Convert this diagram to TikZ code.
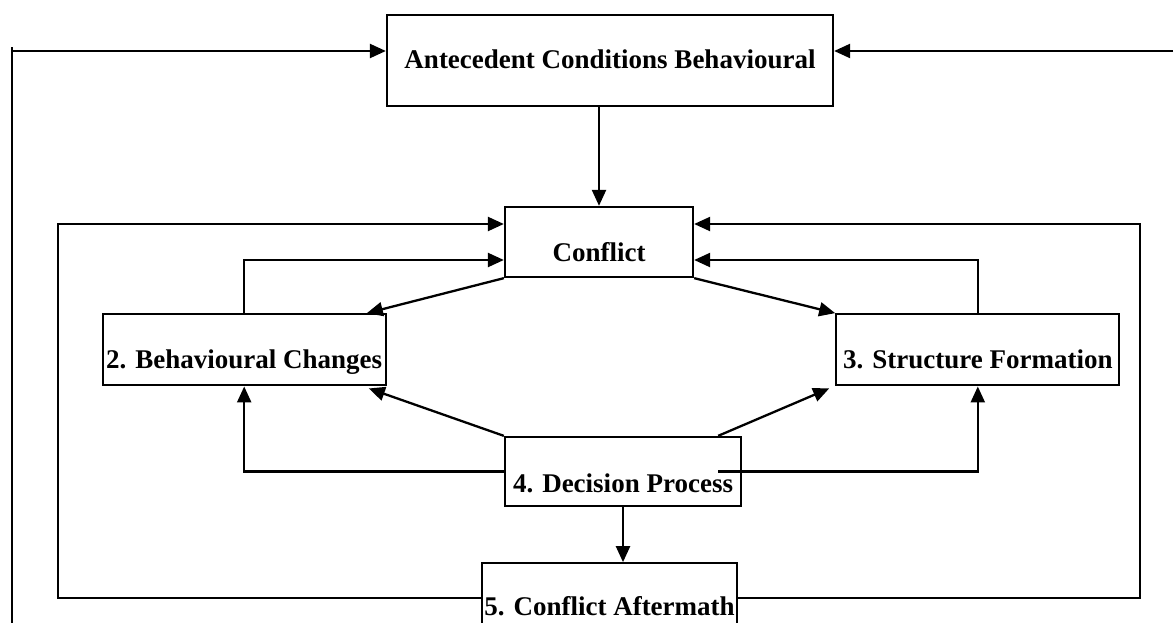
\documentclass[tikz,border=0pt]{standalone}
\usepackage{fontspec}
\setmainfont{Liberation Serif}
\usetikzlibrary{positioning, arrows.meta}
\tikzset{
x=1pt, y=-1pt, % one unit is one pixel of the sketch, y runs down
>={Triangle[length=16pt,width=14pt]}, % filled arrow heads
every path/.style={line width=2.3pt}, % all lines about 2px
stage/.style={draw, rectangle, inner sep=0pt, text depth=0pt, text height=38pt,
  font=\bfseries\fontsize{27}{30}\selectfont}, % the boxes of the process
}

\begin{document}
\begin{tikzpicture}
    \useasboundingbox (0,0) rectangle (1174,623);

    \node[stage, minimum width=446pt, minimum height=91pt, text height=17pt] (ANTE) at (610,60.5) {Antecedent Conditions Behavioural};
    \node[stage, minimum width=188pt, minimum height=70pt] (CONF) at (599,242) {Conflict};
    \node[stage, minimum width=283pt, minimum height=71pt, below left=35pt and 117pt of CONF] (BEHAV) {2. Behavioural Changes};
    \node[stage, minimum width=283pt, minimum height=71pt, below right=35pt and 141pt of CONF] (STRUCT) {3. Structure Formation};
    \node[stage, minimum width=236pt, minimum height=69pt, text height=41pt] (DEC) at (623,471.5) {4. Decision Process};
    \node[stage, minimum width=255pt, minimum height=70pt, text height=34pt, below=55pt of DEC, xshift=-13.5pt] (AFTER) {5. Conflict Aftermath};

    \coordinate (lbot) at (12,623);
    \coordinate (ltop) at (12,47);
    \coordinate (rend) at (1173,51);
    \coordinate (ileft) at (58,0);
    \coordinate (iright) at (1140,0);
    \coordinate (cinl) at ([yshift=18pt]CONF.west);
    \coordinate (cinl2) at ([yshift=-18pt]CONF.west);
    \coordinate (cinr) at ([yshift=18pt]CONF.east);
    \coordinate (cinr2) at ([yshift=-18pt]CONF.east);
    \coordinate (dnr) at ([xshift=-24pt]DEC.north east);
    \coordinate (der) at ([xshift=-24pt]DEC.east);

  \draw (lbot) -- (ltop);
  \draw[->] (ltop |- ANTE.west) ++(0,-9.5) -- ([yshift=9.5pt]ANTE.west);
  \draw[->] (rend) -- (rend -| ANTE.east);
  \draw[->] (CONF.north |- ANTE.south) -- (CONF.north);
  \draw[->] (AFTER.west) -- (AFTER.west -| ileft) |- (cinl);
  \draw[->] (AFTER.east) -- (AFTER.east -| iright) |- (cinr);
  \draw[->] (BEHAV.north) |- (cinl2);
  \draw[->] (STRUCT.north) |- (cinr2);
  \draw[->] (CONF.south west) -- ([xshift=-20pt]BEHAV.north east);
  \draw[->] (CONF.south east) -- (STRUCT.north west);
  \draw[->] (DEC.north west) -- ([xshift=-18pt,yshift=-2pt]BEHAV.south east);
  \draw[->] (dnr) -- ([xshift=-6pt,yshift=-2pt]STRUCT.south west);
  \draw[->] (DEC.west) -| (BEHAV.south);
  \draw[->] (der) -| (STRUCT.south);
  \draw[->] (DEC.south) -- (DEC.south |- AFTER.north);
\end{tikzpicture}
\end{document}
